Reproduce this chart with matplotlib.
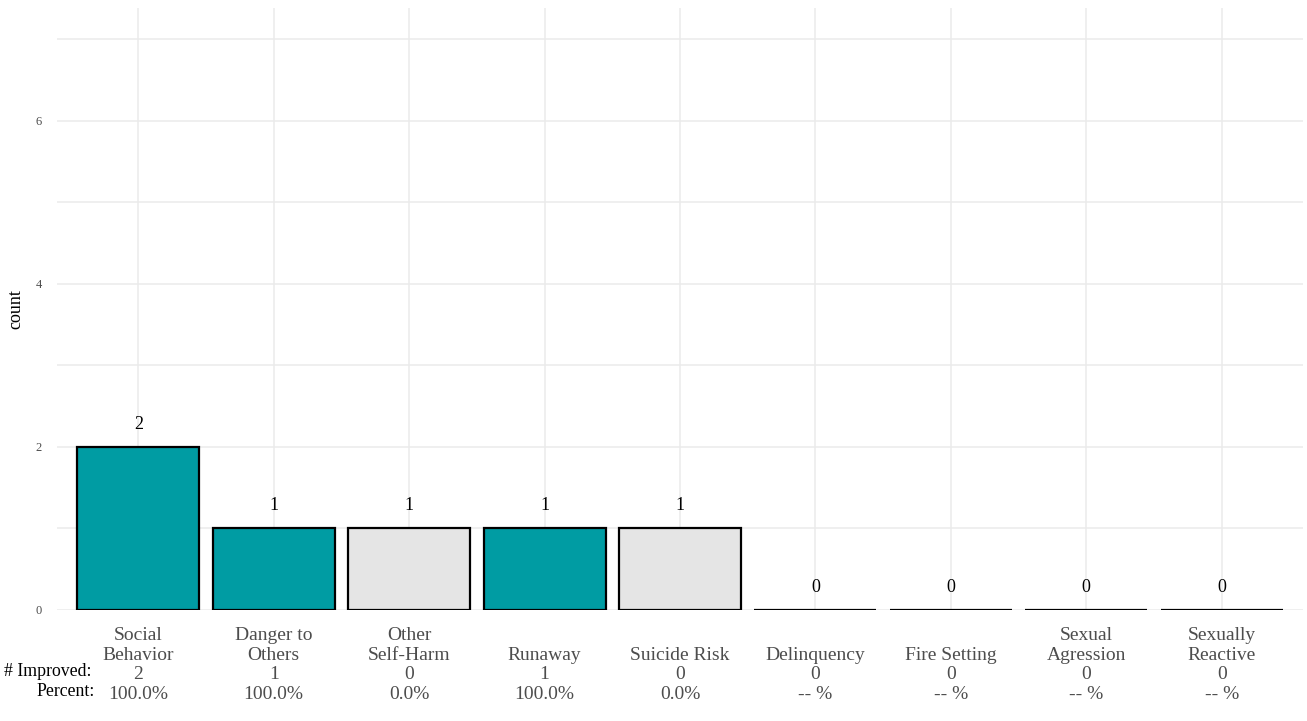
import numpy as np
import matplotlib.pyplot as plt

# data
categories = ["Social\nBehavior", "Danger to\nOthers", "Other\nSelf-Harm", "Runaway",
              "Suicide Risk", "Delinquency", "Fire Setting", "Sexual\nAgression", "Sexually\nReactive"]
counts = [2, 1, 1, 1, 1, 0, 0, 0, 0]
improved = [2, 1, 0, 1, 0, 0, 0, 0, 0]
percents = ["100.0%", "100.0%", "0.0%", "100.0%", "0.0%", "-- %", "-- %", "-- %", "-- %"]

TEAL = "#009CA3"
GRAY = "#E5E5E5"
GRID = "#EBEBEB"

plt.rcParams['font.family'] = ['Liberation Serif', 'DejaVu Serif']

fig = plt.figure(figsize=(13.07, 7.21), dpi=100)
ax = fig.add_axes([57 / 1307, (721 - 610) / 721, (1303 - 57) / 1307, (610 - 8) / 721])

x = np.arange(len(categories))
colors = [TEAL if imp > 0 else GRAY for imp in improved]
ax.bar(x, counts, width=0.9, color=colors, edgecolor="black", linewidth=1.6, zorder=3)

# value labels above bars
for xi, c in zip(x, counts):
    ax.text(xi, c + 0.28, str(c), ha="center", va="center", fontsize=13, color="black")

# x tick labels: name (padded to two lines), improved count, percent
labels = []
for name, imp, pct in zip(categories, improved, percents):
    lines = name.split("\n")
    if len(lines) < 2:
        lines = [""] + lines
    labels.append("\n".join(lines + [str(imp), pct]))
ax.set_xticks(x)
ax.set_xticklabels(labels, fontsize=14, color="#4D4D4D", linespacing=1.22, va="top")

ax.set_xlim(-0.6, len(categories) - 0.4)
ax.set_ylim(0, 7.38)
ax.set_yticks([0, 2, 4, 6])
ax.set_yticks([1, 3, 5, 7], minor=True)
ax.tick_params(axis="y", labelsize=9, colors="#4D4D4D", length=0, pad=11)
ax.tick_params(axis="y", which="minor", length=0)
ax.tick_params(axis="x", length=0, pad=12)
ax.set_ylabel("count", fontsize=13, labelpad=8)

ax.grid(True, which="major", color=GRID, linewidth=1.1, zorder=0)
ax.grid(True, which="minor", axis="y", color=GRID, linewidth=1.1, zorder=0)
ax.set_axisbelow(True)
for s in ax.spines.values():
    s.set_visible(False)

fig.text(92 / 1307, 1 - 671 / 721, "# Improved:", ha="right", va="center", fontsize=12.8)
fig.text(95 / 1307, 1 - 691 / 721, "Percent:", ha="right", va="center", fontsize=12.8)

fig.savefig("out.png", dpi=100)
